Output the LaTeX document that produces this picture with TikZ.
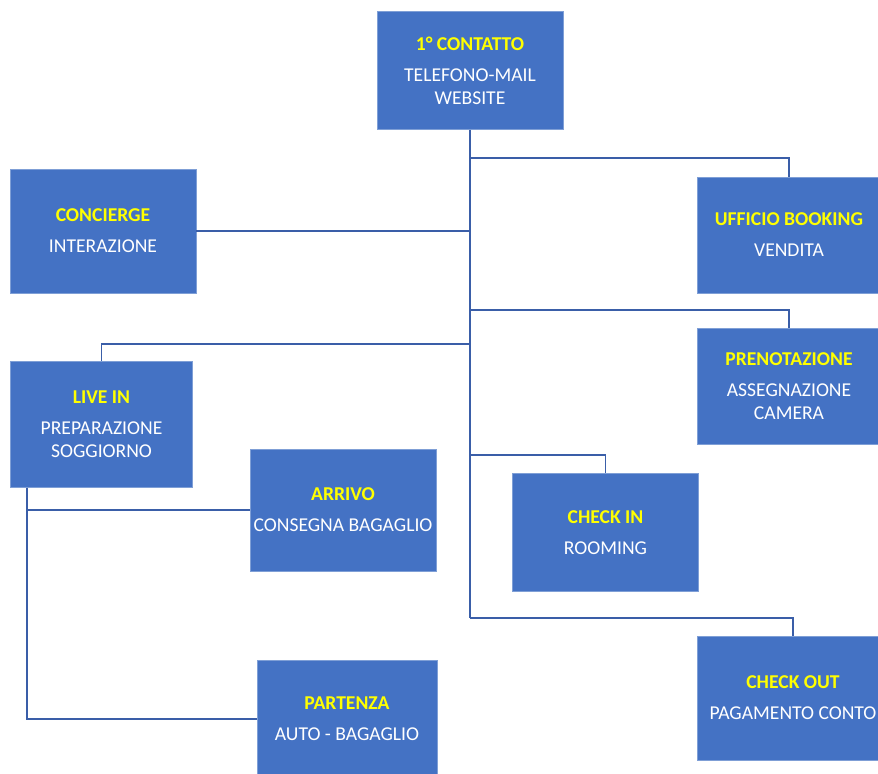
\documentclass[tikz,border=0pt]{standalone}
\usepackage{fontspec}
\setmainfont{Carlito}
\usepackage{xcolor}
\usepackage{tikz}
\usetikzlibrary{positioning}
\definecolor{boxblue}{HTML}{4472C4}
\definecolor{boxedge}{HTML}{7F9FD6}
\definecolor{linkblue}{HTML}{3A5EA8}
\definecolor{titleyel}{HTML}{FFFF00}
\newcommand{\titolo}[1]{{\bfseries\color{titleyel}#1}\\[6pt]}
\tikzset{
phase/.style={ % Sets the properties for each box
rectangle,
fill=boxblue,
draw=boxedge,
line width=0.6pt,
text=white,
align=center,
inner sep=0pt,
font=\fontsize{14.7}{17.2}\selectfont},
link/.style={ % Sets the properties for each connector
draw=linkblue,
line width=1.3pt}}

\begin{document}
\begin{tikzpicture}[x=0.75pt,y=-0.75pt]
\useasboundingbox (0,0) rectangle (878,774);
\node[phase, minimum width=139.5pt, minimum height=88pt] (contatto) at (470,70.5) {\titolo{1° CONTATTO}TELEFONO-MAIL\\WEBSITE};
\node[phase, minimum width=139.5pt, minimum height=93pt] (concierge) at (103,231) {\titolo{CONCIERGE}INTERAZIONE};
\node[phase, minimum width=138pt, minimum height=87pt] (booking) at (789,235) {\titolo{UFFICIO BOOKING}VENDITA};
\node[phase, minimum width=138pt, minimum height=87pt] (prenota) at (789,386) {\titolo{PRENOTAZIONE}ASSEGNAZIONE\\CAMERA};
\node[phase, minimum width=137pt, minimum height=94pt] (livein) at (101.5,424.5) {\titolo{LIVE IN}PREPARAZIONE\\SOGGIORNO};
\node[phase, minimum width=139.5pt, minimum height=91.5pt] (arrivo) at (343,510) {\titolo{ARRIVO}CONSEGNA BAGAGLIO};
\node[phase, minimum width=139pt, minimum height=89pt] (checkin) at (605.5,532.5) {\titolo{CHECK IN}ROOMING};
\node[phase, minimum width=144pt, minimum height=93pt] (checkout) at (793,698) {\titolo{CHECK OUT}PAGAMENTO CONTO};
\node[phase, minimum width=135pt, minimum height=88.5pt] (partenza) at (347,719) {\titolo{PARTENZA}AUTO - BAGAGLIO};
% trunk and branches
\coordinate (t1) at (470,158);
\coordinate (t3) at (470,310);
\coordinate (t4) at (470,344);
\coordinate (t5) at (470,455);
\coordinate (t7) at (470,618);
\coordinate (l1) at (27,719);
\draw[link] (contatto.south) -- (t7);
\draw[link] (t1) -| (booking.north);
\draw[link] (concierge.east) -- (concierge.east -| t1);
\draw[link] (t3) -| (prenota.north);
\draw[link] (t4) -| (livein.north);
\draw[link] (t5) -| (checkin.north);
\draw[link] (t7) -| (checkout.north);
\draw[link] (livein.south -| l1) -- (l1) -- (partenza.west);
\draw[link] (arrivo.west) -- (arrivo.west -| l1);
\end{tikzpicture}
\end{document}
